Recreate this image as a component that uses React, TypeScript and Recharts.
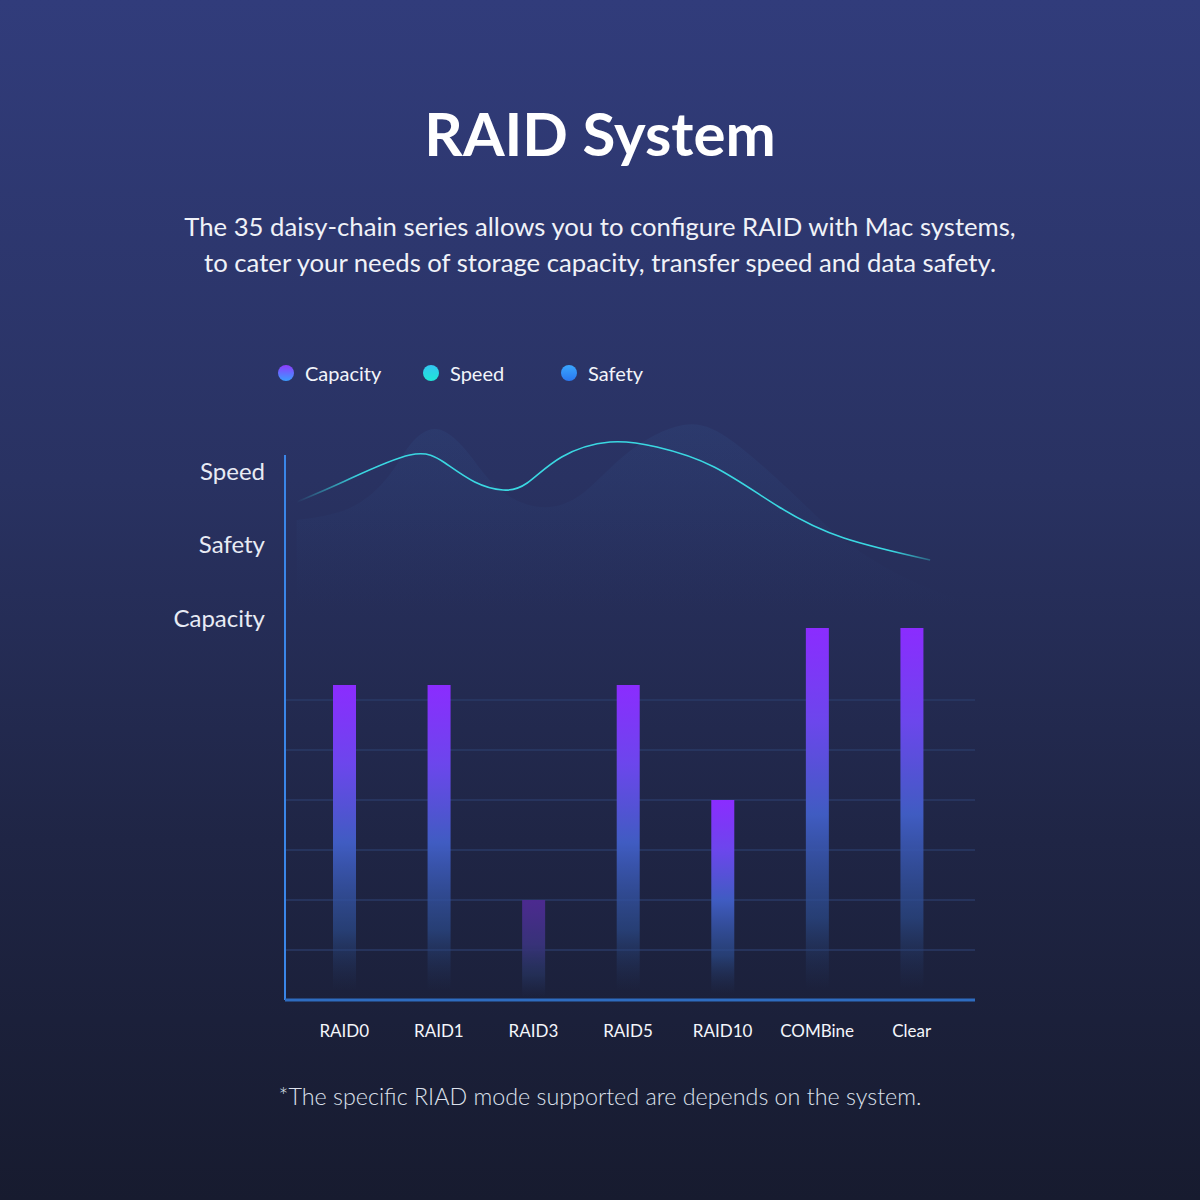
import React from 'react';
import { ComposedChart, Bar, Line, Area, XAxis, YAxis, ReferenceLine, Cell } from 'recharts';

const modes = ['RAID0', 'RAID1', 'RAID3', 'RAID5', 'RAID10', 'COMBine', 'Clear'];
const capacity = [63, 63, 20, 63, 40, 74.4, 74.4];
const dimmedModes = ['RAID3'];

const levelTicks = [76.4, 91.2, 105.8];
const levelLabels = ['Capacity', 'Safety', 'Speed'];
const gridValues = [10, 20, 30, 40, 50, 60];

// speed curve, x on a 0-100 scale across the plot
const speedX = [1.7, 8.7, 18.1, 23.2, 27.5, 31.6, 35.1, 40.1, 47.1, 53.9, 62.2, 71.6, 81.0, 93.5];
const speedY = [99.6, 103.8, 109, 107.4, 103.6, 102, 103.4, 108.6, 111.6, 110.6, 106.6, 98.6, 92.4, 88];

// safety hills behind it
const safetyX = [1.7, 9.4, 14.9, 18.1, 21.9, 26.2, 30.7, 37, 43.2, 49.6, 57.7, 65.2, 74.6, 81, 89.1, 97.8];
const safetyY = [96, 98.4, 104.6, 111, 114.2, 110, 102.6, 98.6, 101.4, 109.4, 115, 111.4, 100, 92, 85, 80];

const legendNames = ['Capacity', 'Speed', 'Safety'];
const legendColors = [
    ['#8e3cff', '#3a9cff'],
    ['#33c6f2', '#1fe6d6'],
    ['#3aa6ff', '#2a78f0'],
];

const barData = modes.map((mode, i) => ({ mode, capacity: capacity[i] }));
const speedData = speedX.map((x, i) => ({ x, v: speedY[i] }));
const safetyData = safetyX.map((x, i) => ({ x, v: safetyY[i] }));
// each grid row is a flat two-point series across the plot
const gridRows = gridValues.map((v) => [{ x: 0, v }, { x: 100, v }]);

const FONT = 'Lato, "Noto Sans", sans-serif';
const CHART_W = 1200;
const CHART_H = 720;
const MARGIN = { top: 60, right: 225, bottom: 20, left: 185 };

const ChartLegend = () => {
    const widths = [145, 138, 110];
    return (
        <div style={{ position: 'absolute', top: 360, left: 278, display: 'flex', alignItems: 'center' }}>
            {legendNames.map((name, i) => (
                <div key={name} style={{ width: widths[i], display: 'flex', alignItems: 'center', height: 26 }}>
                    <div
                        style={{
                            width: 16,
                            height: 16,
                            borderRadius: '50%',
                            background: `linear-gradient(180deg, ${legendColors[i][0]}, ${legendColors[i][1]})`,
                            marginRight: 11,
                        }}
                    />
                    <span style={{ color: '#f2f4fa', fontSize: 20, fontFamily: FONT }}>{name}</span>
                </div>
            ))}
        </div>
    );
};

// shared axes so the grid layer and the main chart get the same frame
const axes = (tickFill: string) => [
    <XAxis
        key="x"
        dataKey="mode"
        padding={{ left: 12, right: 16 }}
        axisLine={tickFill === 'transparent' ? false : { stroke: '#2e6cc0', strokeWidth: 3 }}
        tickLine={false}
        tickSize={0}
        tickMargin={25}
        tick={{ fill: tickFill, fontSize: 17, fontFamily: FONT }}
        height={40}
    />,
    <XAxis key="wave" xAxisId="wave" type="number" dataKey="x" domain={[0, 100]} hide />,
    <YAxis
        key="y"
        domain={[0, 120]}
        ticks={levelTicks}
        tickFormatter={(v) => levelLabels[levelTicks.indexOf(v)]}
        axisLine={false}
        tickLine={false}
        tickSize={0}
        tickMargin={20}
        tick={{ fill: tickFill === 'transparent' ? 'transparent' : '#e8ebf4', fontSize: 24, fontFamily: FONT }}
        width={100}
        interval={0}
    />,
];

// grid rows drawn in their own chart underneath, so the bars sit on top of them
const GridLayer = () => (
    <ComposedChart width={CHART_W} height={CHART_H} data={barData} margin={MARGIN}>
        {axes('transparent')}
        {gridRows.map((row, i) => (
            <Line
                key={`grid-${gridValues[i]}`}
                xAxisId="wave"
                data={row}
                dataKey="v"
                type="linear"
                stroke="#293a66"
                strokeWidth={2}
                strokeOpacity={0.75}
                dot={false}
                activeDot={false}
                isAnimationActive={false}
            />
        ))}
    </ComposedChart>
);

export default function App() {
    return (
        <div
            style={{
                position: 'absolute',
                top: 0,
                left: 0,
                width: 1200,
                height: 1200,
                overflow: 'hidden',
                fontFamily: FONT,
                background: 'linear-gradient(180deg, #313c7b 0%, #293262 40%, #1f2545 70%, #171b2f 100%)',
            }}
        >
            <div style={{ position: 'absolute', top: 93, width: 1200, textAlign: 'center', color: '#fff', fontSize: 60, fontWeight: 700, lineHeight: '80px' }}>
                RAID System
            </div>
            <div style={{ position: 'absolute', top: 208, width: 1200, textAlign: 'center', color: '#f0f2f8', fontSize: 25.7, lineHeight: '36px' }}>
                The 35 daisy-chain series allows you to configure RAID with Mac systems,
                <br />
                to cater your needs of storage capacity, transfer speed and data safety.
            </div>

            <ChartLegend />

            <div style={{ position: 'absolute', top: 340, left: 0 }}>
                <GridLayer />
            </div>

            <div style={{ position: 'absolute', top: 340, left: 0 }}>
                <ComposedChart width={CHART_W} height={CHART_H} data={barData} margin={MARGIN}>
                    <defs>
                        <linearGradient id="barGrad" x1="0" y1="0" x2="0" y2="1">
                            <stop offset="0%" stopColor="#8b2cff" />
                            <stop offset="25%" stopColor="#6c46ec" />
                            <stop offset="50%" stopColor="#405cc2" />
                            <stop offset="78%" stopColor="#2b4a8a" stopOpacity={0.7} />
                            <stop offset="97%" stopColor="#23365e" stopOpacity={0} />
                        </linearGradient>
                        <linearGradient id="barGradDim" x1="0" y1="0" x2="0" y2="1">
                            <stop offset="0%" stopColor="#4c2a90" />
                            <stop offset="45%" stopColor="#373278" />
                            <stop offset="75%" stopColor="#283766" stopOpacity={0.6} />
                            <stop offset="97%" stopColor="#22305a" stopOpacity={0} />
                        </linearGradient>
                        <linearGradient id="safetyGrad" x1="0" y1="0" x2="0" y2="1">
                            <stop offset="0%" stopColor="#34568e" stopOpacity={0.32} />
                            <stop offset="15%" stopColor="#2f4c84" stopOpacity={0.2} />
                            <stop offset="32%" stopColor="#2a4276" stopOpacity={0} />
                        </linearGradient>
                        <linearGradient id="speedGrad" x1="0" y1="0" x2="1" y2="0">
                            <stop offset="0%" stopColor="#3ad8e2" stopOpacity={0} />
                            <stop offset="10%" stopColor="#3ad8e2" stopOpacity={1} />
                            <stop offset="94%" stopColor="#3ad8e2" stopOpacity={1} />
                            <stop offset="100%" stopColor="#3ad8e2" stopOpacity={0.3} />
                        </linearGradient>
                    </defs>
                    {axes('#f4f6fb')}
                    <ReferenceLine
                        xAxisId="wave"
                        segment={[{ x: 0, y: 0 }, { x: 0, y: 109 }]}
                        stroke="#3a86e8"
                        strokeWidth={2}
                    />
                    <Area
                        xAxisId="wave"
                        data={safetyData}
                        dataKey="v"
                        type="natural"
                        stroke="none"
                        fill="url(#safetyGrad)"
                        isAnimationActive={false}
                    />
                    <Line
                        xAxisId="wave"
                        data={speedData}
                        dataKey="v"
                        type="natural"
                        stroke="url(#speedGrad)"
                        strokeWidth={1.6}
                        dot={false}
                        activeDot={false}
                        isAnimationActive={false}
                    />
                    <Bar dataKey="capacity" barSize={23} isAnimationActive={false}>
                        {barData.map((d) => (
                            <Cell key={d.mode} fill={dimmedModes.includes(d.mode) ? 'url(#barGradDim)' : 'url(#barGrad)'} />
                        ))}
                    </Bar>
                </ComposedChart>
            </div>

            <div style={{ position: 'absolute', top: 1080, width: 1200, textAlign: 'center', color: '#dde1ec', fontSize: 23.3, fontWeight: 300, lineHeight: '32px' }}>
                *The specific RIAD mode supported are depends on the system.
            </div>
        </div>
    );
}
